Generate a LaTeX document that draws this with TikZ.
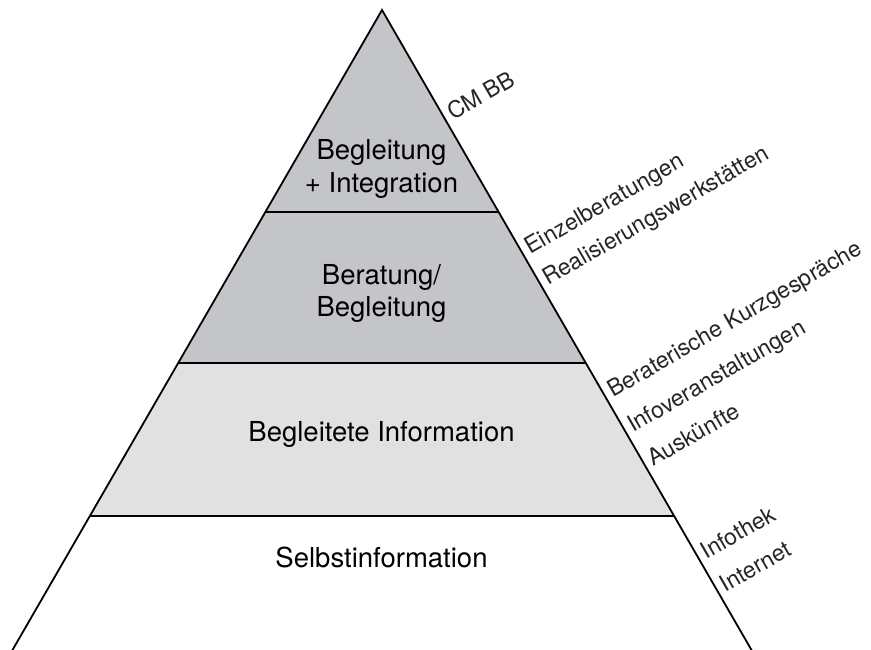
\documentclass[tikz,border=0pt]{standalone}
\usepackage{fontspec}
\setmainfont{TeX Gyre Heros}
\definecolor{topgray}{HTML}{C4C5C9}
\definecolor{lightgray}{HTML}{E1E1E1}
\begin{document}
\begin{tikzpicture}[x=1pt,y=-1pt,
  edgeline/.style={line width=1.8pt,black},
  mainlabel/.style={inner sep=0pt,align=center,font=\fontsize{27.5}{32.5}\selectfont},
  sidelabel/.style={inner sep=0pt,anchor=base west,rotate=30,text=black!85,font=\fontsize{23}{27}\selectfont}]
\useasboundingbox (0,0) rectangle (871,649);
\clip (0,0) rectangle (871,649);
\coordinate (apex) at (382,10);
\coordinate (l1) at (265.37,212); \coordinate (r1) at (498.63,212);
\coordinate (l2) at (178.2,363);  \coordinate (r2) at (585.8,363);
\coordinate (l3) at (89.86,516);  \coordinate (r3) at (674.14,516);
\coordinate (l4) at (6.72,660);   \coordinate (r4) at (757.28,660);
% fills
\fill[topgray] (apex) -- (r1) -- (l1) -- cycle;
\fill[topgray] (l1) -- (r1) -- (r2) -- (l2) -- cycle;
\fill[lightgray] (l2) -- (r2) -- (r3) -- (l3) -- cycle;
% lines
\draw[edgeline] (l1) -- (r1);
\draw[edgeline] (l2) -- (r2);
\draw[edgeline] (l3) -- (r3);
\draw[edgeline,line join=miter] (l4) -- (apex) -- (r4);
% main labels
\node[mainlabel] (n1) at (381.5,168.8) {Begleitung\\+ Integration};
\node[mainlabel] (n2) at (381.5,293.5) {Beratung/\\Begleitung};
\node[mainlabel,anchor=base] (n3) at (381.5,441.7) {Begleitete Information};
\node[mainlabel,anchor=base] (n4) at (381.5,567) {Selbstinformation};
% side labels
\node[sidelabel] (s1) at (453.1,121) {CM BB};
\node[sidelabel] (s2) at (530.5,255) {Einzelberatungen};
\node[sidelabel] (s3) at (548.4,286) {Realisierungswerkstätten};
\node[sidelabel] (s4) at (613.0,398) {Beraterische Kurzgespräche};
\node[sidelabel] (s5) at (633.2,433) {Infoveranstaltungen};
\node[sidelabel] (s6) at (652.9,467) {Auskünfte};
\node[sidelabel] (s7) at (706.6,560) {Infothek};
\node[sidelabel] (s8) at (725.6,593) {Internet};
\end{tikzpicture}
\end{document}
